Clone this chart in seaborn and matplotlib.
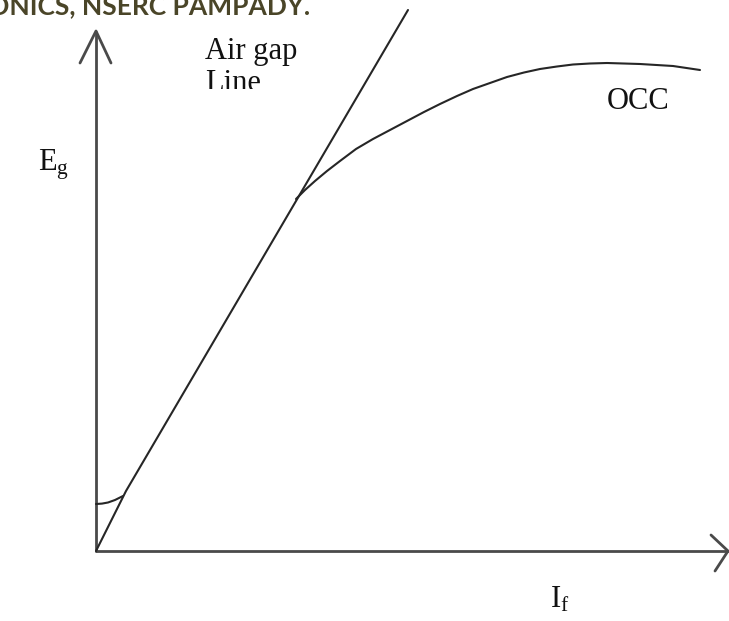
import matplotlib
matplotlib.use("Agg")
import matplotlib.pyplot as plt
import seaborn as sns
from matplotlib.transforms import Bbox

# ---- data (units: field current / generated emf, arbitrary) ----
if_air_gap = [0, 30, 312]
eg_air_gap = [0, 60, 541]

if_occ = [200, 209, 219, 231, 244, 260, 277, 294, 311, 328, 344, 361, 377, 394, 411,
          428, 444, 461, 477, 494, 511, 544, 577, 604]
eg_occ = [352, 361, 370, 380, 390, 402, 412, 421, 430, 439, 447, 455, 462, 468, 474,
          478.5, 482, 484.5, 486.5, 487.5, 488, 487, 485, 481]

if_residual = [0, 6, 12, 19, 27]
eg_residual = [47, 47.4, 48.5, 51, 55]

# axis arrows
y_axis_if = [0, 0]
y_axis_eg = [0, 519]
y_head_if = [-16, 0, 15]
y_head_eg = [488, 520, 488]
x_axis_if = [0, 632]
x_axis_eg = [0, 0]
x_head_if = [615, 632, 619]
x_head_eg = [16, 0, -20]

sns.set_theme(style="white")
plt.rcParams["font.family"] = ["Liberation Serif", "DejaVu Serif"]
plt.rcParams["mathtext.fontset"] = "custom"
plt.rcParams["mathtext.rm"] = "Liberation Serif"
plt.rcParams["mathtext.it"] = "Liberation Serif:italic"

fig = plt.figure(figsize=(7.29, 6.21), dpi=100)
fig.patch.set_facecolor("white")
ax = fig.add_axes([0, 0, 1, 1])
ax.set_xlim(-96, 633)
ax.set_ylim(-70, 551)
ax.axis("off")

axis_color = "#4a4a4a"
curve_color = "#262626"

for xs, ys in [(y_axis_if, y_axis_eg), (y_head_if, y_head_eg),
               (x_axis_if, x_axis_eg), (x_head_if, x_head_eg)]:
    sns.lineplot(x=xs, y=ys, sort=False, estimator=None, color=axis_color,
                 linewidth=2.0, ax=ax)

sns.lineplot(x=if_air_gap, y=eg_air_gap, sort=False, estimator=None,
             color=curve_color, linewidth=1.5, ax=ax)
sns.lineplot(x=if_occ, y=eg_occ, sort=False, estimator=None,
             color=curve_color, linewidth=1.5, ax=ax)
sns.lineplot(x=if_residual, y=eg_residual, sort=False, estimator=None,
             color=curve_color, linewidth=1.5, ax=ax)

txt_kw = dict(fontsize=22, color="#111111", va="baseline", ha="left")
ax.text(109, 492, "Air gap", **txt_kw)
t_line = ax.text(109, 460, "Line", **txt_kw)
t_line.set_clip_box(Bbox([[0, 621 - 89], [729, 621]]))
t_line.set_clip_on(True)
ax.text(511, 442, "OCC", **txt_kw)
ax.text(-58, 381, r"$\mathrm{E_g}$", **txt_kw)
ax.text(454, -57, r"$\mathrm{I_f}$", **txt_kw)

fig.text(310 / 729, 1 - 14 / 621, "ONICS, NSERC PAMPADY.", ha="right",
         va="baseline", fontsize=19, fontweight="bold", color="#4a4528",
         family=["Lato", "DejaVu Sans"])

fig.savefig("out.png", dpi=100, facecolor="white")
